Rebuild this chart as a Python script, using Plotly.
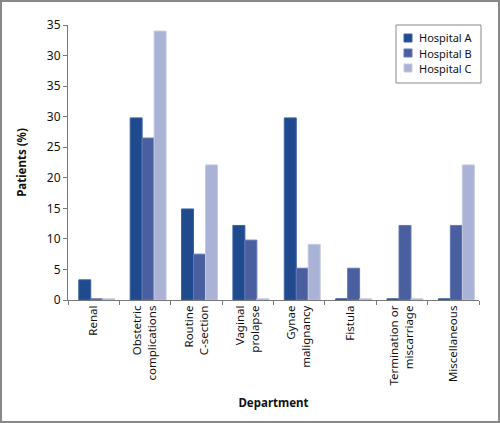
import plotly.graph_objects as go

# departments and patient shares (axis units)
departments = ["Renal", "Obstetric<br>complications", "Routine<br>C-section",
               "Vaginal<br>prolapse", "Gynae<br>malignancy", "Fistula",
               "Termination or<br>miscarriage", "Miscellaneous"]
hospital_a = [3.3, 29.8, 14.9, 12.2, 29.8, 0.2, 0.2, 0.2]
hospital_b = [0.2, 26.5, 7.5, 9.8, 5.2, 5.2, 12.2, 12.2]
hospital_c = [0.2, 44.0, 22.1, 0.2, 9.1, 0.2, 0.2, 22.1]

y_ticks = [0, 5, 10, 15, 20, 25, 30, 35, 40, 45]
y_tick_labels = ["0", "5", "10", "15", "20", "25", "30", "35", "30", "35"]

series = [("Hospital A", hospital_a, "#1f4b8e", "#3a63a3"),
          ("Hospital B", hospital_b, "#4a5f9f", "#6478b2"),
          ("Hospital C", hospital_c, "#aab2d6", "#c3c9e3")]

W, H = 500, 423
ml, mr, mt, mb = 68, 21, 25, 123
pw, ph = W - ml - mr, H - mt - mb

def px(x):
    return (x - ml) / pw

def py(y):
    return 1 - (y - mt) / ph

# bars sit a little right of centre in each category, as in the original
bar_w = 0.233
first_offset = -0.29

fig = go.Figure()
for i, (name, vals, col, edge) in enumerate(series):
    fig.add_trace(go.Bar(x=departments, y=vals, name=name, showlegend=False,
                         width=bar_w, offset=first_offset + i * bar_w,
                         marker=dict(color=col, line=dict(color=edge, width=1))))

fig.update_layout(
    width=W, height=H,
    margin=dict(l=ml, r=mr, t=mt, b=mb, pad=0, autoexpand=False),
    paper_bgcolor="white", plot_bgcolor="white",
    font=dict(family="Noto Sans", size=11, color="#222"),
    barmode="overlay",
)

fig.update_xaxes(
    automargin=False,
    showline=True, linecolor="#777", linewidth=1,
    ticks="outside", tickson="boundaries", ticklen=4, tickcolor="#777",
    tickangle=-90, tickfont=dict(size=11.5, color="#111"),
    title=dict(text="<b>Department</b>", font=dict(size=11.5, color="#111"), standoff=14),
    showgrid=False,
)
fig.update_yaxes(
    automargin=False,
    range=[0, 45], tickvals=y_ticks, ticktext=y_tick_labels,
    showline=True, linecolor="#777", linewidth=1,
    ticks="outside", ticklen=4, tickcolor="#777",
    tickfont=dict(size=12, color="#111"),
    title=dict(text="<b>Patients (%)</b>", font=dict(size=11.5, color="#111"), standoff=17),
    showgrid=False, zeroline=False,
)

# legend drawn by hand so the box is as compact as the original
fig.add_shape(type="rect", xref="paper", yref="paper",
              x0=px(396), x1=px(481), y0=py(83), y1=py(25),
              line=dict(color="#888", width=1), fillcolor="white")
for i, (name, vals, col, edge) in enumerate(series):
    cy = 38 + 15 * i
    fig.add_shape(type="rect", xref="paper", yref="paper",
                  x0=px(404), x1=px(412), y0=py(cy + 4), y1=py(cy - 4),
                  line=dict(color=edge, width=1), fillcolor=col)
    fig.add_annotation(text=name, xref="paper", yref="paper",
                       x=px(417), y=py(cy), xanchor="left", yanchor="middle",
                       showarrow=False, font=dict(size=11, color="#111"))

# grey frame round the whole picture
fig.add_shape(type="rect", xref="paper", yref="paper",
              x0=px(1), x1=px(W - 1), y0=py(H - 1), y1=py(1),
              line=dict(color="#888", width=2))

fig.write_html("out.html", config={"displayModeBar": False},
               post_script="document.body.style.margin='0';")
